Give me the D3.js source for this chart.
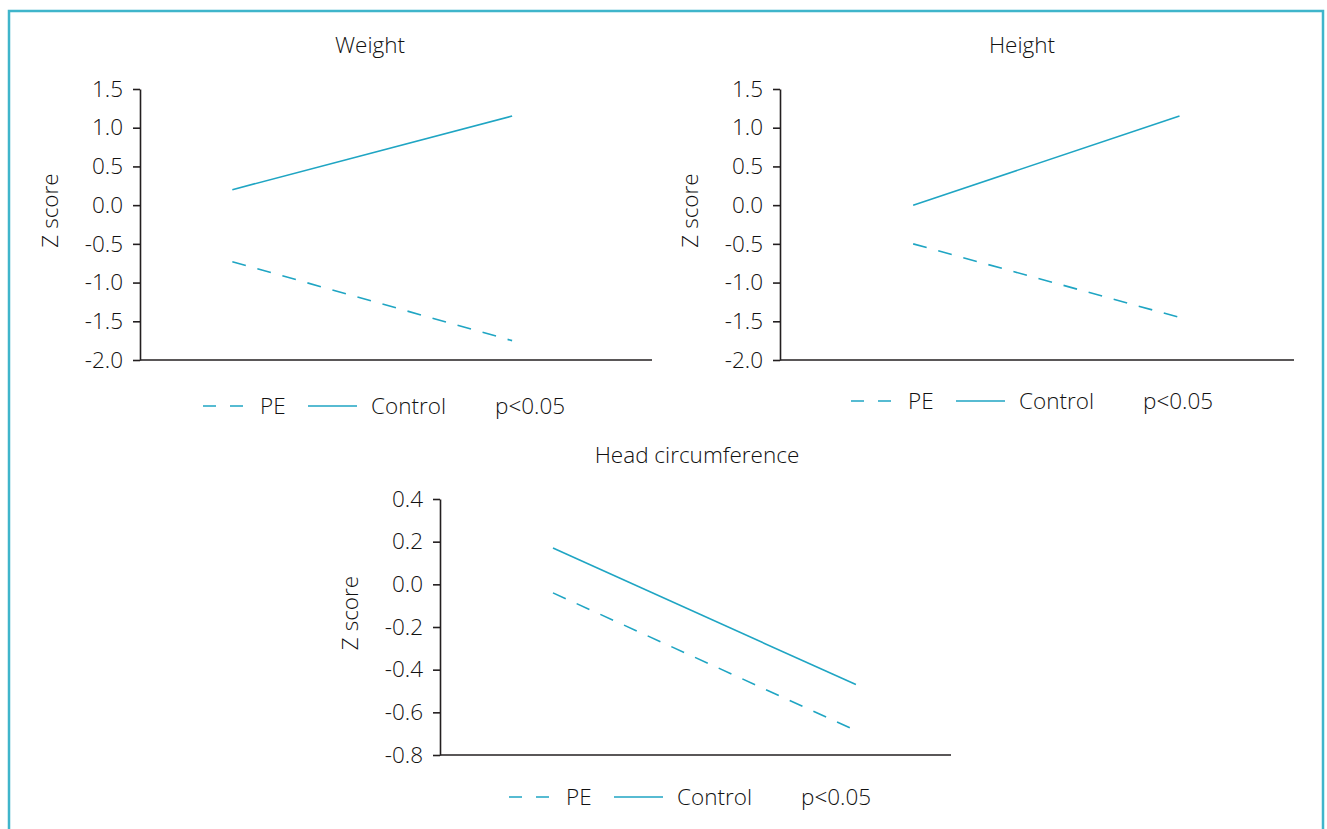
<!DOCTYPE html>
<html>
<head>
<meta charset="utf-8">
<script src="https://cdn.jsdelivr.net/npm/d3@7"></script>
<style>
  body { margin: 0; background: #fff; }
  svg text { font-family: "Open Sans", "Noto Sans", sans-serif; fill: #111; font-size: 22.5px; font-weight: 300; }
</style>
</head>
<body>
<div id="chart"></div>
<script>
// time points (first / second measurement)
const timePoints = [0, 1];
const seriesNames = ['PE', 'Control'];

// Z score values
const weightPE = [-0.73, -1.75];
const weightControl = [0.2, 1.15];
const heightPE = [-0.5, -1.45];
const heightControl = [0.0, 1.15];
const headPE = [-0.04, -0.685];
const headControl = [0.17, -0.47];

const weightTicks = [-2.0, -1.5, -1.0, -0.5, 0.0, 0.5, 1.0, 1.5];
const heightTicks = [-2.0, -1.5, -1.0, -0.5, 0.0, 0.5, 1.0, 1.5];
const headTicks = [-0.8, -0.6, -0.4, -0.2, 0.0, 0.2, 0.4];

const pLabel = 'p<0.05';
const yLabel = 'Z score';

const lineColor = '#1fa5c3';
const width = 1327;
const height = 829;

const panels = [
  { title: 'Weight', pe: weightPE, control: weightControl, ticks: weightTicks, titleX: 370,
    left: 140, right: 652, top: 89, bottom: 360, xDomain: [-0.33, 1.5], legendX: 203, legendY: 406 },
  { title: 'Height', pe: heightPE, control: heightControl, ticks: heightTicks, titleX: 1022,
    left: 780, right: 1294, top: 89, bottom: 360, xDomain: [-0.5, 1.43], legendX: 851, legendY: 401 },
  { title: 'Head circumference', pe: headPE, control: headControl, ticks: headTicks, titleX: 697,
    left: 440, right: 951, top: 499, bottom: 755, xDomain: [-0.373, 1.314], legendX: 509, legendY: 797 }
];

const svg = d3.select('#chart').append('svg')
  .attr('width', width)
  .attr('height', height);

// teal frame round the figure
svg.append('rect')
  .attr('x', 9)
  .attr('y', 11)
  .attr('width', 1314)
  .attr('height', 900)
  .attr('fill', 'none')
  .attr('stroke', '#3fb5cb')
  .attr('stroke-width', 2.5);

function drawPanel(p) {
  const x = d3.scaleLinear().domain(p.xDomain).range([p.left, p.right]);
  const y = d3.scaleLinear().domain([p.ticks[0], p.ticks[p.ticks.length - 1]]).range([p.bottom, p.top]);

  const g = svg.append('g');

  // title
  g.append('text')
    .attr('x', p.titleX)
    .attr('y', p.top - 36)
    .attr('text-anchor', 'middle')
    .text(p.title);

  // y axis
  const yAxis = g.append('g')
    .attr('transform', `translate(${p.left},0)`)
    .call(d3.axisLeft(y).tickValues(p.ticks).tickSize(7).tickPadding(10).tickSizeOuter(0));
  yAxis.attr('font-size', null).attr('font-family', null);
  yAxis.selectAll('text')
    .attr('fill', null)
    .text(d => d3.format('.1f')(d).replace('−', '-'));
  yAxis.selectAll('line, path').attr('stroke', '#231f20').attr('stroke-width', 1.6);

  // x axis line (no ticks)
  g.append('line')
    .attr('x1', p.left)
    .attr('x2', p.right)
    .attr('y1', p.bottom)
    .attr('y2', p.bottom)
    .attr('stroke', '#231f20')
    .attr('stroke-width', 1.6);

  // y label
  g.append('text')
    .attr('transform', `translate(${p.left - 82},${(p.top + p.bottom) / 2 - 14}) rotate(-90)`)
    .attr('text-anchor', 'middle')
    .text(yLabel);

  const line = d3.line()
    .x((d, i) => x(timePoints[i]))
    .y(d => y(d));

  g.append('path')
    .datum(p.control)
    .attr('d', line)
    .attr('fill', 'none')
    .attr('stroke', lineColor)
    .attr('stroke-width', 1.6);

  g.append('path')
    .datum(p.pe)
    .attr('d', line)
    .attr('fill', 'none')
    .attr('stroke', lineColor)
    .attr('stroke-width', 1.6)
    .attr('stroke-dasharray', '14,12');

  // legend
  const key = g.append('g')
    .attr('transform', `translate(${p.legendX},${p.legendY})`);

  key.append('line')
    .attr('x1', 0).attr('x2', 40)
    .attr('stroke', lineColor).attr('stroke-width', 1.6)
    .attr('stroke-dasharray', '13,14');
  key.append('text')
    .attr('x', 57).attr('dy', '0.35em')
    .text(seriesNames[0]);
  key.append('line')
    .attr('x1', 105).attr('x2', 154)
    .attr('stroke', lineColor).attr('stroke-width', 1.6);
  key.append('text')
    .attr('x', 168).attr('dy', '0.35em')
    .text(seriesNames[1]);
  key.append('text')
    .attr('x', 292).attr('dy', '0.35em')
    .text(pLabel);
}

panels.forEach(drawPanel);
</script>
</body>
</html>
